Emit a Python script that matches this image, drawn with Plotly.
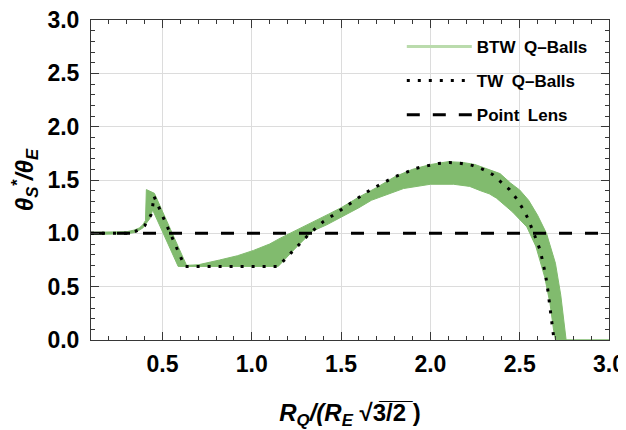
import plotly.graph_objects as go

# ---------------- data ----------------
# BTW Q-Balls band: upper boundary
band_up_x = [0.10, 0.20, 0.30, 0.34, 0.37, 0.39, 0.405, 0.41, 0.455, 0.635, 0.70, 0.82, 0.92,
             1.01, 1.10, 1.16, 1.25, 1.33, 1.43, 1.50, 1.60, 1.70, 1.80, 1.90, 2.00, 2.10,
             2.18, 2.25, 2.33, 2.39, 2.45, 2.50, 2.55, 2.60, 2.65, 2.70, 2.73, 2.75, 2.76, 3.00]
band_up_y = [1.01, 1.01, 1.015, 1.03, 1.05, 1.08, 1.12, 1.41, 1.375, 0.70, 0.705, 0.75, 0.79,
             0.84, 0.90, 0.955, 1.03, 1.09, 1.18, 1.24, 1.34, 1.43, 1.53, 1.60, 1.645, 1.672,
             1.665, 1.645, 1.595, 1.56, 1.47, 1.406, 1.31, 1.17, 1.00, 0.72, 0.42, 0.16, 0.0, 0.0]
# BTW Q-Balls band: lower boundary
band_lo_x = [0.10, 0.20, 0.30, 0.35, 0.39, 0.43, 0.445, 0.588, 0.70, 0.90, 1.148, 1.25, 1.34,
             1.42, 1.50, 1.60, 1.67, 1.72, 1.85, 2.00, 2.13, 2.22, 2.28, 2.33, 2.37, 2.46,
             2.54, 2.59, 2.64, 2.67, 2.69, 2.70, 3.00]
band_lo_y = [0.99, 0.99, 0.995, 1.01, 1.05, 1.14, 1.22, 0.69, 0.69, 0.69, 0.69, 0.87, 1.02,
             1.08, 1.15, 1.24, 1.31, 1.34, 1.42, 1.46, 1.46, 1.44, 1.40, 1.37, 1.33, 1.20,
             1.06, 0.88, 0.59, 0.34, 0.09, 0.0, 0.0]

# TW Q-Balls (dotted)
tw_x = [0.10, 0.30, 0.35, 0.38, 0.40, 0.42, 0.435, 0.445, 0.452, 0.625, 1.148, 1.325, 1.40,
        1.483, 1.55, 1.632, 1.688, 1.744, 1.80, 1.862, 1.92, 1.987, 2.046, 2.108, 2.173,
        2.234, 2.294, 2.35, 2.397, 2.443, 2.48, 2.518, 2.546, 2.574, 2.593, 2.615, 2.63,
        2.643, 2.654, 2.661, 2.671, 2.678, 2.684, 2.69, 2.70]
tw_y = [1.0, 1.0, 1.02, 1.04, 1.07, 1.12, 1.17, 1.25, 1.35, 0.69, 0.69, 1.0, 1.11,
        1.20, 1.28, 1.375, 1.43, 1.48, 1.53, 1.57, 1.61, 1.635, 1.655, 1.664, 1.655,
        1.637, 1.60, 1.55, 1.48, 1.41, 1.33, 1.23, 1.14, 1.03, 0.94, 0.84, 0.73,
        0.625, 0.515, 0.41, 0.30, 0.20, 0.11, 0.03, 0.0]

# Point lens (dashed)
pl_x = [0.1, 3.0]
pl_y = [1.0, 1.0]

series_names = ["BTW\u2002Q\u2013Balls", "TW\u2002Q\u2013Balls", "Point\u2002Lens"]

# ---------------- styling ----------------
GREEN = "rgb(129,187,110)"
LIGHT_GREEN = "rgb(186,219,172)"
FRAME = "rgb(55,55,55)"
FONT = "Liberation Sans"

fig = go.Figure()

fig.add_trace(go.Scatter(
    x=band_up_x + band_lo_x[::-1], y=band_up_y + band_lo_y[::-1],
    mode="lines", fill="toself", fillcolor=GREEN,
    line=dict(color=GREEN, width=1), showlegend=False, hoverinfo="skip"))

fig.add_trace(go.Scatter(
    x=[None], y=[None], mode="lines", name=series_names[0], legendgroup="a",
    line=dict(color=LIGHT_GREEN, width=3)))

fig.add_trace(go.Scatter(
    x=pl_x, y=pl_y, mode="lines", name=series_names[2], legendgroup="c",
    line=dict(color="black", width=3, dash="13px,13px"), showlegend=False))

fig.add_trace(go.Scatter(
    x=tw_x, y=tw_y, mode="lines", name=series_names[1], legendgroup="b",
    line=dict(color="black", width=3, dash="3px,8px")))

fig.add_trace(go.Scatter(
    x=[None], y=[None], mode="lines", name=series_names[2], legendgroup="c",
    line=dict(color="black", width=3, dash="13px,13px")))

axis_common = dict(
    ticks="inside", ticklen=8, tickwidth=1, tickcolor=FRAME,
    showline=True, linecolor=FRAME, linewidth=1, mirror="ticks",
    showgrid=True, gridcolor="rgb(220,220,220)", gridwidth=1,
    zeroline=False, tickformat=".1f", ticklabeloverflow="allow",
    tickfont=dict(family=FONT, size=23, color="black", weight="bold"),
    minor=dict(ticks="inside", ticklen=4, tickwidth=1, tickcolor=FRAME, dtick=0.1,
               tick0=0, showgrid=False),
)

fig.update_xaxes(range=[0.1, 3.0], dtick=0.5, tick0=0, ticklabelstandoff=3,
                 title=dict(text="<b><i>R<sub>Q</sub>/(R<sub>E</sub></i> \u221a"
                                 "3\u0305/\u03052\u0305 )</b>",
                            font=dict(family=FONT, size=24, color="black"), standoff=28),
                 **axis_common)
fig.update_yaxes(range=[0, 3.0], dtick=0.5, tick0=0, ticklabelstandoff=6,
                 title=dict(text="<b><i>\u03b8<sub>S</sub><sup>*</sup>/\u03b8<sub>E</sub></i></b>",
                            font=dict(family=FONT, size=24, color="black"), standoff=12),
                 **axis_common)

# The page body adds an 8px offset, so margins are reduced by 8 on the left/top.
fig.update_layout(
    width=626, height=430,
    margin=dict(l=83, r=25, t=12, b=98, autoexpand=False),
    plot_bgcolor="white", paper_bgcolor="white",
    legend=dict(x=0.60, y=0.972, xanchor="left", yanchor="top",
                font=dict(family=FONT, size=17, color="black", weight="bold"),
                bgcolor="rgba(0,0,0,0)", tracegroupgap=9, itemwidth=65),
)

fig.write_html("out.html")
